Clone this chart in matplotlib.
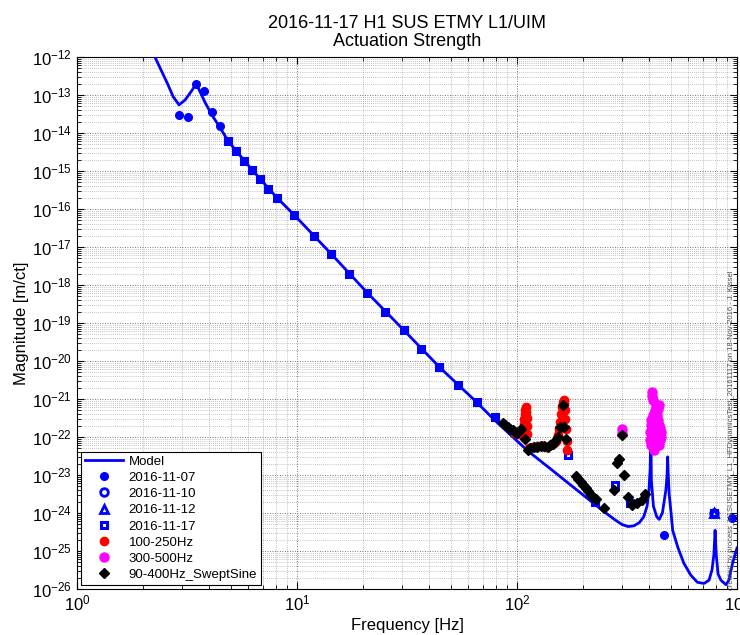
import numpy as np
import matplotlib
matplotlib.use('Agg')
import matplotlib.pyplot as plt
from matplotlib.ticker import LogLocator, NullFormatter, LogFormatterMathtext

plt.rcParams['font.family'] = ['Liberation Sans', 'DejaVu Sans']
plt.rcParams['mathtext.fontset'] = 'custom'
plt.rcParams['mathtext.rm'] = 'Liberation Sans'
plt.rcParams['mathtext.it'] = 'Liberation Sans:italic'
plt.rcParams['mathtext.bf'] = 'Liberation Sans:bold'

# ---------------- data ----------------
model_f = [2.26, 2.57, 2.74, 2.91, 3.10, 3.34, 3.48, 3.63, 3.83, 4.11, 4.48, 4.87, 5.29,
           6.26, 8.13, 9.73, 14.3, 20.9, 30.5, 44.4, 65.5, 79, 112, 142, 181, 248, 280,
           300, 320, 340, 360, 377, 390, 398, 403, 406, 408, 417, 432, 443, 458, 475, 481,
           484, 487, 492, 500, 510, 538, 573, 617, 661, 708, 746, 770, 785, 795, 805, 820,
           845, 891, 918, 955, 1000]
model_m = [1e-12, 2.07e-13, 8.9e-14, 5.5e-14, 7.4e-14, 1.35e-13, 2.0e-13, 1.2e-13, 6.2e-14,
           2.95e-14, 1.35e-14, 6.1e-15, 3.4e-15, 1.06e-15, 1.95e-16, 6.9e-17, 6.6e-18,
           6.2e-19, 6.6e-20, 6.9e-21, 8.3e-22, 2.8e-22, 4.3e-23, 1.45e-23, 4.7e-24, 1.1e-24,
           6.5e-25, 5.0e-25, 4.4e-25, 4.6e-25, 5.6e-25, 8e-25, 1.5e-24, 4e-24, 1.5e-23,
           2e-22, 7.4e-24, 1.5e-24, 7.9e-25, 6.8e-25, 1e-24, 4e-24, 1e-23, 3e-23, 1e-23,
           3e-24, 1.2e-24, 3.5e-25, 1.26e-25, 4.8e-26, 2.3e-26, 1.5e-26, 1.4e-26, 1.7e-26,
           3.2e-26, 8e-26, 3.5e-25, 8e-26, 2.5e-26, 1.7e-26, 1.3e-26, 1.7e-26, 4.8e-26,
           1.2e-25]

d1107_f = [2.91, 3.20, 3.48, 3.79, 4.11, 4.48, 4.87, 5.29, 5.75, 6.26, 6.81, 7.40, 8.13,
           9.73, 11.9, 14.3, 17.3, 20.9, 25.2, 30.5, 36.8, 44.4, 53.7, 65.5, 79.1, 465, 948]
d1107_m = [2.95e-14, 2.6e-14, 1.94e-13, 1.28e-13, 3.58e-14, 1.5e-14, 6.1e-15, 3.4e-15,
           1.83e-15, 1.06e-15, 6.2e-16, 3.4e-16, 1.95e-16, 6.9e-17, 1.94e-17, 6.6e-18,
           1.95e-18, 6.2e-19, 1.95e-19, 6.6e-20, 2.09e-20, 6.9e-21, 2.3e-21, 8.3e-22,
           3.35e-22, 2.6e-25, 7.4e-25]

d1110_f = [785]
d1110_m = [1.0e-24]

d1112_f = [785]
d1112_m = [1.0e-24]

d1117_f = [4.87, 5.29, 5.75, 6.26, 6.81, 7.40, 8.13, 9.73, 11.9, 14.3, 17.3, 20.9, 25.2,
           30.5, 36.8, 44.4, 53.7, 65.5, 79.1, 128, 170, 226, 278, 326, 785]
d1117_m = [6.1e-15, 3.4e-15, 1.83e-15, 1.06e-15, 6.2e-16, 3.4e-16, 1.95e-16, 6.9e-17,
           1.94e-17, 6.6e-18, 1.95e-18, 6.2e-19, 1.95e-19, 6.6e-20, 2.09e-20, 6.9e-21,
           2.3e-21, 8.3e-22, 3.35e-22, 5.8e-23, 3.4e-23, 1.95e-24, 5.5e-24, 1.8e-24, 1.0e-24]

red_f = [98, 100, 102, 104, 105.5, 106.5, 107.5, 108, 108.5, 109, 109.5, 110, 110.5, 111,
         111.5, 113, 118, 124, 130, 136, 142, 147, 150, 153, 155, 157, 159, 160.5, 162,
         163, 164, 165, 166, 167, 168, 169.5]
red_m = [1.3e-22, 1.25e-22, 1.2e-22, 1.25e-22, 1.4e-22, 1.7e-22, 2.2e-22, 3.0e-22, 4.0e-22,
         5.2e-22, 6e-22, 4.5e-22, 3.2e-22, 2.0e-22, 1.2e-22, 5e-23, 5.5e-23, 5.8e-23,
         5.8e-23, 5.5e-23, 6e-23, 7e-23, 8e-23, 1.1e-22, 1.6e-22, 2.5e-22, 4e-22, 6e-22,
         8.5e-22, 9.5e-22, 8e-22, 5e-22, 3e-22, 1.6e-22, 8e-23, 4.5e-23]

mag_f = [300, 300, 410, 414, 428, 441, 423, 414, 432, 406, 419, 436, 406, 441, 428, 402,
         414, 451, 432, 402, 419, 446, 406, 432, 441, 419, 410, 423, 436, 446, 410, 428,
         412, 425, 438, 416, 450]
mag_m = [1.6e-22, 1.25e-22, 1.53e-21, 9.4e-22, 6.95e-22, 6.95e-22, 5.1e-22, 3.8e-22,
         3.8e-22, 2.8e-22, 2.8e-22, 2.8e-22, 2.07e-22, 2.07e-22, 2.07e-22, 1.35e-22,
         1.35e-22, 1.35e-22, 1.35e-22, 8.3e-23, 8.3e-23, 8.3e-23, 6.15e-23, 6.15e-23,
         6.15e-23, 4.55e-23, 1.73e-22, 1.13e-22, 1.13e-22, 1.73e-22, 1.0e-22, 9e-23,
         1.2e-21, 4.5e-22, 5.5e-22, 2.4e-22, 1.0e-22]

blk_f = [86.0, 88.2, 90.6, 93.0, 95.5, 97.5, 99.6, 101.5, 103.8, 108.3, 111.7, 115, 119.0,
         123, 128.0, 133, 137.8, 141, 145.2, 149, 153.0, 156.3, 161.3, 163.5, 166.4,
         185, 190, 195, 200, 205, 211, 216, 222, 228, 248, 275, 284, 290, 299, 305, 318,
         334, 352, 370, 380]
blk_m = [2.3e-22, 2.05e-22, 1.8e-22, 1.65e-22, 1.5e-22, 1.38e-22, 1.28e-22, 1.35e-22,
         1.6e-22, 8.9e-23, 4.6e-23, 5.0e-23, 5.5e-23, 5.6e-23, 5.8e-23, 5.7e-23, 5.5e-23,
         6.0e-23, 6.6e-23, 8e-23, 1.0e-22, 1.8e-22, 6.9e-22, 1.8e-22, 8.9e-23, 9.3e-24,
         7.8e-24, 6.6e-24, 5.5e-24, 4.6e-24, 3.7e-24, 3.0e-24, 2.6e-24, 2.3e-24, 1.35e-24,
         4e-24, 2.1e-23, 2.6e-23, 1.1e-22, 1.0e-23, 2.6e-24, 1.6e-24, 1.8e-24, 2.2e-24,
         3.2e-24]

# ---------------- figure ----------------
fig = plt.figure(figsize=(7.4, 6.35), dpi=100)
ax = fig.add_axes([77 / 740, 1 - 589 / 635, 660 / 740, 532 / 635])
ax.set_xscale('log')
ax.set_yscale('log')

blue = (0, 0, 1)
ax.plot(model_f, model_m, '-', color=blue, lw=2, label='Model', zorder=3)
ax.plot(d1107_f, d1107_m, 'o', ls='none', color=blue, ms=5.5, label='2016-11-07', zorder=4)
ax.plot(d1110_f, d1110_m, 'o', ls='none', mfc='none', mec=blue, mew=2, ms=5.5,
        label='2016-11-10', zorder=4)
ax.plot(d1112_f, d1112_m, '^', ls='none', mfc='none', mec=blue, mew=2, ms=5.5,
        label='2016-11-12', zorder=4)
ax.plot(d1117_f, d1117_m, 's', ls='none', mfc='none', mec=blue, mew=2.2, ms=5,
        label='2016-11-17', zorder=4)
ax.plot(red_f, red_m, 'o', ls='none', color='red', ms=6, label='100-250Hz', zorder=5)
ax.plot(mag_f, mag_m, 'o', ls='none', color='magenta', ms=6.5, label='300-500Hz', zorder=5)
ax.plot(blk_f, blk_m, 'D', ls='none', color='black', ms=5.2, label='90-400Hz_SweptSine',
        zorder=6)

ax.set_xlim(1, 1000)
ax.set_ylim(1e-26, 1e-12)

ax.xaxis.set_major_locator(LogLocator(base=10, numticks=20))
ax.xaxis.set_minor_locator(LogLocator(base=10, subs=np.arange(2, 10), numticks=100))
ax.yaxis.set_major_locator(LogLocator(base=10, numticks=30))
ax.yaxis.set_minor_locator(LogLocator(base=10, subs=np.arange(2, 10), numticks=300))
ax.xaxis.set_minor_formatter(NullFormatter())
ax.yaxis.set_minor_formatter(NullFormatter())
ax.xaxis.set_major_formatter(LogFormatterMathtext())
ax.yaxis.set_major_formatter(LogFormatterMathtext())

ax.tick_params(which='both', direction='in', top=True, right=True, labelsize=12)
ax.tick_params(which='major', length=5)
ax.tick_params(which='minor', length=3)

ax.set_axisbelow(True)
ax.grid(True, which='major', ls=(0, (1, 2)), color='0.3', lw=0.6)
ax.grid(True, which='minor', ls=(0, (1, 2)), color='0.55', lw=0.5)

for s in ax.spines.values():
    s.set_linewidth(0.8)

ax.set_title('2016-11-17 H1 SUS ETMY L1/UIM\nActuation Strength', fontsize=13,
             linespacing=1.1, pad=8)
ax.set_xlabel('Frequency [Hz]', fontsize=12, labelpad=3)
ax.set_ylabel('Magnitude [m/ct]', fontsize=12, labelpad=2)

leg = ax.legend(loc='lower left', fontsize=9.5, frameon=True, fancybox=False,
                edgecolor='black', framealpha=1, borderaxespad=0.3,
                handlelength=2.9, labelspacing=0.3, borderpad=0.3, handletextpad=0.4)
leg.get_frame().set_linewidth(0.8)

fig.text(0.9935, 1 - 590 / 635,
         'created by process_H1SUSETMY_L1_HFDynamicsTest_20161117 on 18-Nov-2016 - J. Kissel',
         rotation=90, ha='right', va='bottom', fontsize=5.5, color='0.3')

fig.savefig('out.png', dpi=100)
